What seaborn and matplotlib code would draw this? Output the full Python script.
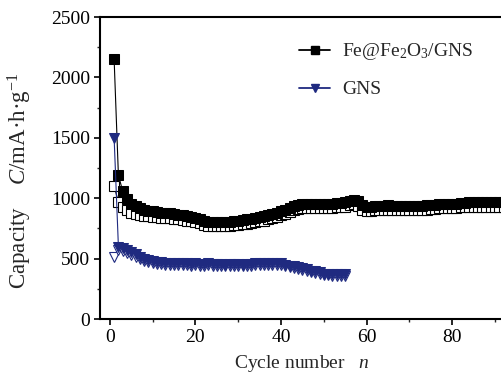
import numpy as np
import pandas as pd
import matplotlib
matplotlib.use("Agg")
import matplotlib.pyplot as plt
from matplotlib.lines import Line2D
from matplotlib.ticker import MultipleLocator
import seaborn as sns

# ---- data ----
fe_cycles = list(range(1, 93))
fe_charge = [2150, 1190, 1060, 995, 955, 935, 920, 905, 895, 890,
             885, 880, 878, 875, 870, 865, 860, 850, 845, 840,
             830, 815, 805, 800, 800, 805, 800, 805, 810, 815,
             820, 825, 830, 840, 845, 850, 860, 870, 880, 890,
             905, 920, 935, 945, 950, 950, 955, 950, 955, 955,
             955, 955, 960, 960, 965, 975, 985, 975, 940, 930,
             930, 935, 935, 935, 940, 935, 935, 935, 935, 935,
             935, 935, 935, 940, 945, 945, 950, 950, 950, 950,
             955, 960, 960, 965, 965, 965, 965, 965, 965, 965,
             965, 965]
fe_discharge = [1100, 970, 930, 900, 880, 868, 860, 855, 850, 845,
                845, 840, 838, 835, 830, 828, 822, 815, 810, 805,
                795, 782, 772, 768, 768, 770, 768, 772, 776, 780,
                785, 790, 796, 805, 810, 815, 825, 835, 845, 858,
                872, 888, 902, 912, 915, 915, 920, 915, 918, 920,
                920, 920, 925, 925, 930, 940, 950, 935, 905, 898,
                898, 900, 900, 900, 905, 900, 900, 900, 900, 900,
                900, 900, 900, 905, 910, 910, 915, 915, 915, 915,
                920, 925, 925, 930, 930, 930, 930, 930, 930, 930,
                930, 930]
gns_cycles = list(range(1, 56))
gns_charge = [1500, 600, 590, 575, 555, 535, 515, 500, 490, 480,
              475, 470, 465, 465, 460, 465, 460, 460, 455, 460,
              455, 455, 460, 455, 455, 455, 450, 455, 455, 455,
              450, 455, 455, 460, 460, 465, 465, 465, 465, 460,
              450, 440, 435, 430, 420, 410, 400, 395, 385, 375,
              375, 370, 370, 370, 370]
gns_discharge = [510, 570, 560, 545, 528, 510, 495, 482, 472, 464,
                 458, 454, 450, 450, 446, 450, 446, 446, 442, 446,
                 442, 442, 446, 442, 442, 442, 437, 442, 442, 442,
                 437, 442, 442, 446, 446, 450, 450, 450, 450, 446,
                 437, 428, 422, 418, 408, 398, 389, 384, 374, 364,
                 364, 360, 360, 360, 360]

series_labels = [r"Fe@Fe$_2$O$_3$/GNS", "GNS"]
x_ticks = [0, 20, 40, 60, 80]
y_ticks = [0, 500, 1000, 1500, 2000, 2500]

# ---- style ----
sns.set_style("ticks")
plt.rcParams["font.family"] = ["Liberation Serif", "DejaVu Serif"]
plt.rcParams["mathtext.fontset"] = "custom"
plt.rcParams["mathtext.rm"] = "Liberation Serif"
plt.rcParams["mathtext.it"] = "Liberation Serif:italic"
plt.rcParams["mathtext.bf"] = "Liberation Serif:bold"

BLACK = "#000000"
BLUE = "#1f2a80"
FS = 14

fig = plt.figure(figsize=(5.02, 3.79), dpi=100)
ax = fig.add_axes([100 / 502, 60 / 379, 404 / 502, 302 / 379])

df_fe = pd.DataFrame({"cycle": fe_cycles, "charge": fe_charge, "discharge": fe_discharge})
df_gns = pd.DataFrame({"cycle": gns_cycles, "charge": gns_charge, "discharge": gns_discharge})

common = dict(lw=0.8, ms=6.5, estimator=None, sort=False, ax=ax, clip_on=True)
sns.lineplot(data=df_fe, x="cycle", y="discharge", color=BLACK, marker="s",
             mfc="white", mec=BLACK, mew=0.8, zorder=2, **common)
sns.lineplot(data=df_fe, x="cycle", y="charge", color=BLACK, marker="s",
             mfc=BLACK, mec=BLACK, zorder=3, **common)
sns.lineplot(data=df_gns, x="cycle", y="discharge", color=BLUE, marker="v",
             mfc="white", mec=BLUE, mew=0.8, zorder=2, **common)
sns.lineplot(data=df_gns, x="cycle", y="charge", color=BLUE, marker="v",
             mfc=BLUE, mec=BLUE, zorder=3, **common)

ax.set_xlim(-2.3, 92.1)
ax.set_ylim(0, 2500)
ax.set_xticks(x_ticks)
ax.set_yticks(y_ticks)
ax.xaxis.set_minor_locator(MultipleLocator(10))
ax.yaxis.set_minor_locator(MultipleLocator(250))
ax.tick_params(which="major", direction="out", length=4, width=1.2,
               labelsize=FS, colors=BLACK, pad=3)
ax.tick_params(which="minor", direction="out", length=2.5, width=1.0)
for s in ax.spines.values():
    s.set_linewidth(1.5)
    s.set_color(BLACK)
ax.spines["right"].set_visible(False)

ax.set_xlabel("Cycle number   $n$", fontsize=FS, labelpad=5)
ax.set_ylabel("Capacity    $C$/mA·h·g$^{-1}$", fontsize=16.5)
ax.yaxis.set_label_coords(-0.163, 0.457)

handles = [
    Line2D([], [], color=BLACK, lw=1.3, marker="s", ms=5.5, mfc=BLACK),
    Line2D([], [], color=BLUE, lw=1.3, marker="v", ms=5.5, mfc=BLUE),
]
ax.legend(handles, series_labels, loc="upper left", bbox_to_anchor=(0.474, 0.945),
          frameon=False, fontsize=FS, handlelength=1.6, handletextpad=0.6,
          labelspacing=0.95, borderaxespad=0)

fig.savefig("out.png", dpi=100)
